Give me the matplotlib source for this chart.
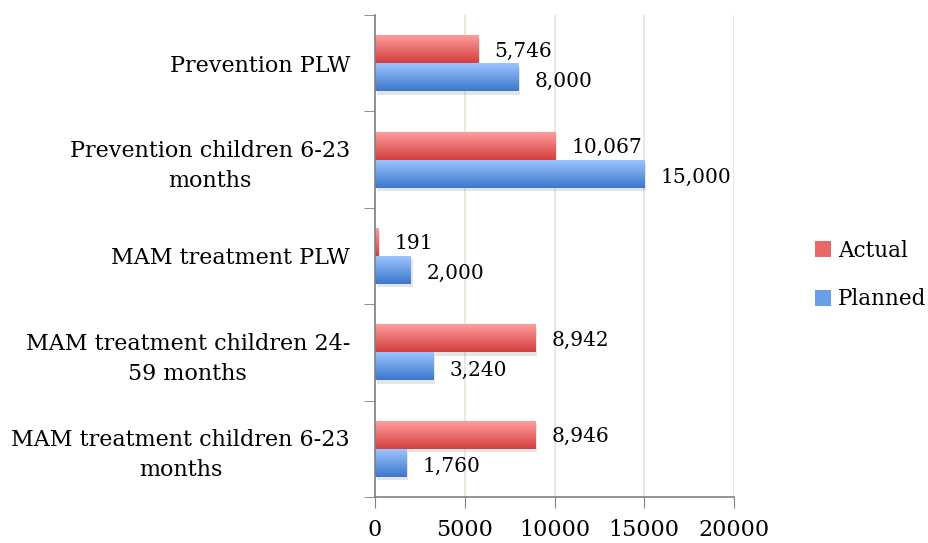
import matplotlib
matplotlib.use("Agg")
import matplotlib.pyplot as plt
import numpy as np
from matplotlib.colors import LinearSegmentedColormap
from matplotlib.patches import Patch

categories = ["Prevention PLW", "Prevention children 6-23\nmonths", "MAM treatment PLW",
              "MAM treatment children 24-\n59 months", "MAM treatment children 6-23\nmonths"]
actual = [5746, 10067, 191, 8942, 8946]
planned = [8000, 15000, 2000, 3240, 1760]
xticks = [0, 5000, 10000, 15000, 20000]

plt.rcParams['font.family'] = ['DejaVu Serif']

fig = plt.figure(figsize=(9.29, 5.43), dpi=100)
ax = fig.add_axes([375/929, 1-497/543, (734-375)/929, (497-15)/543])

n = len(categories)
y = np.arange(n)
h = 0.29
FS = 14.5
FSL = 16
red_cmap = LinearSegmentedColormap.from_list("r", ["#FF9C9C", "#D43F3F"])
blue_cmap = LinearSegmentedColormap.from_list("b", ["#9CC4FF", "#3C78CC"])

def grad_bars(bars, cmap):
    for b in bars:
        x0, y0 = b.get_x(), b.get_y()
        w, hh = b.get_width(), b.get_height()
        sh = plt.Rectangle((x0 + 100, y0 + 0.035), w, hh, color="#000000", alpha=0.10,
                           zorder=1.5, lw=0)
        ax.add_patch(sh)
        grad = np.linspace(0, 1, 64).reshape(-1, 1)
        im = ax.imshow(grad, cmap=cmap, aspect='auto', extent=(x0, x0 + w, y0 + hh, y0),
                       origin='upper', zorder=2.5, interpolation='bilinear')
        im.set_clip_path(b)
        b.set_alpha(0)

ba = ax.barh(y - h/2, actual, height=h, color="#E06060", zorder=2)
bp = ax.barh(y + h/2, planned, height=h, color="#6A9FE8", zorder=2)
grad_bars(ba, red_cmap)
grad_bars(bp, blue_cmap)

for i in range(n):
    ax.text(actual[i] + 900, y[i] - h/2 + 0.02, f"{actual[i]:,}", va='center', ha='left', fontsize=FS)
    ax.text(planned[i] + 900, y[i] + h/2 + 0.04, f"{planned[i]:,}", va='center', ha='left', fontsize=FS)

ax.set_xlim(0, 20000)
ax.set_ylim(n - 0.5, -0.5)
ax.set_xticks(xticks)
ax.set_xticklabels([str(t) for t in xticks], fontsize=FSL)
ax.set_yticks(y)
ax.set_yticklabels(categories, fontsize=FSL, multialignment='center', linespacing=1.45)
ax.tick_params(axis='y', length=0, pad=18)
ax.set_yticks(np.arange(-0.5, n, 1), minor=True)
ax.tick_params(axis='y', which='minor', length=8, color='#808080', direction='out')
ax.tick_params(axis='x', length=8, color='#808080', direction='out', pad=8)
ax.grid(axis='x', color='#E8E4D8', lw=1.2, zorder=0)
ax.set_axisbelow(True)
for s in ['top', 'right']:
    ax.spines[s].set_visible(False)
for s in ['left', 'bottom']:
    ax.spines[s].set_color('#808080')
    ax.spines[s].set_linewidth(1.2)

handles = [Patch(facecolor="#E86868", label="Actual"), Patch(facecolor="#6A9FE8", label="Planned")]
fig.legend(handles=handles, loc='center left', bbox_to_anchor=(800/929, 1-275/543), frameon=False,
           fontsize=15.5, handlelength=0.75, handleheight=0.75, labelspacing=1.25, handletextpad=0.3,
           borderpad=0.2)

fig.savefig("out.png", dpi=100)
